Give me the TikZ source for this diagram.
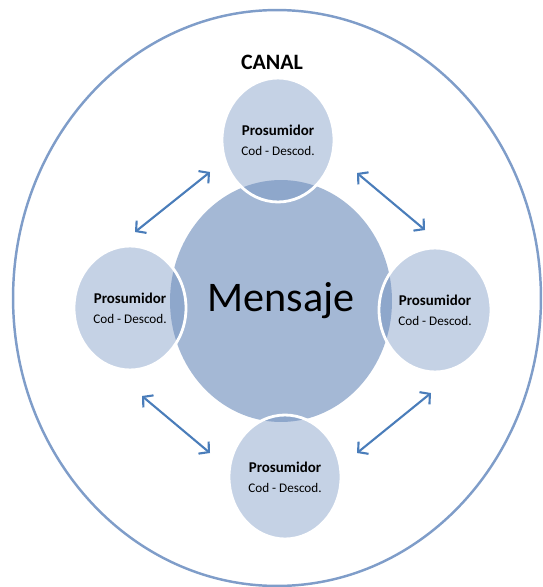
\documentclass[tikz,border=0pt]{standalone}
\usepackage{fontspec}
\setmainfont{Carlito}
\usepackage{xcolor}
\usetikzlibrary{arrows.meta,positioning,shapes.geometric}

\definecolor{canalline}{HTML}{7F9DC9}
\definecolor{mensajefill}{HTML}{A4B8D5}
\definecolor{prosfill}{HTML}{6E8EBE}
\definecolor{flecha}{HTML}{4A7DBA}

\begin{document}
\begin{tikzpicture}[x=0.02cm, y=-0.02cm, >={Straight Barb[length=4pt,width=9pt]},
    prosumidor/.style={ellipse, minimum width=2.24cm, minimum height=2.48cm, inner sep=0pt,
        fill=prosfill, fill opacity=0.4, text opacity=1, draw=white, line width=1.6pt,
        align=center, font=\fontsize{8.5}{10.5}\selectfont},
    flujo/.style={<->, flecha, line width=1.2pt}]
    \useasboundingbox (0,0) rectangle (542,587);
    % canal exterior
    \node[ellipse, draw=canalline, line width=1.4pt, minimum width=10.56cm,
        minimum height=11.52cm, inner sep=0pt] (canal) at (277,298) {};
    \node[font=\fontsize{12.5}{14}\selectfont\bfseries] (canaltxt) at (272,62) {CANAL};
    % mensaje central
    \node[ellipse, fill=mensajefill, minimum width=4.44cm, minimum height=4.84cm,
        inner sep=0pt, font=\fontsize{24}{28}\selectfont] (mensaje) at (281,301) {Mensaje};
    % prosumidores
    \foreach \n/\x/\y in {arriba/278/140, izq/130/308, der/435/310, abajo/285/477}
        \node[prosumidor] (\n) at (\x,\y) {\textbf{Prosumidor}\\[1pt]{\fontsize{7.5}{9}\selectfont Cod - Descod.}};
    % flechas
    \coordinate (f1a) at (135,232);
    \coordinate (f1b) at (210,172);
    \coordinate (f2a) at (357,173);
    \coordinate (f2b) at (425,230);
    \coordinate (f3a) at (142,396);
    \coordinate (f3b) at (210,453);
    \coordinate (f4a) at (357,453);
    \coordinate (f4b) at (431,393);
    \foreach \a/\b in {f1a/f1b, f2a/f2b, f3a/f3b, f4a/f4b}
        \draw[flujo] (\a) -- (\b);
\end{tikzpicture}
\end{document}
